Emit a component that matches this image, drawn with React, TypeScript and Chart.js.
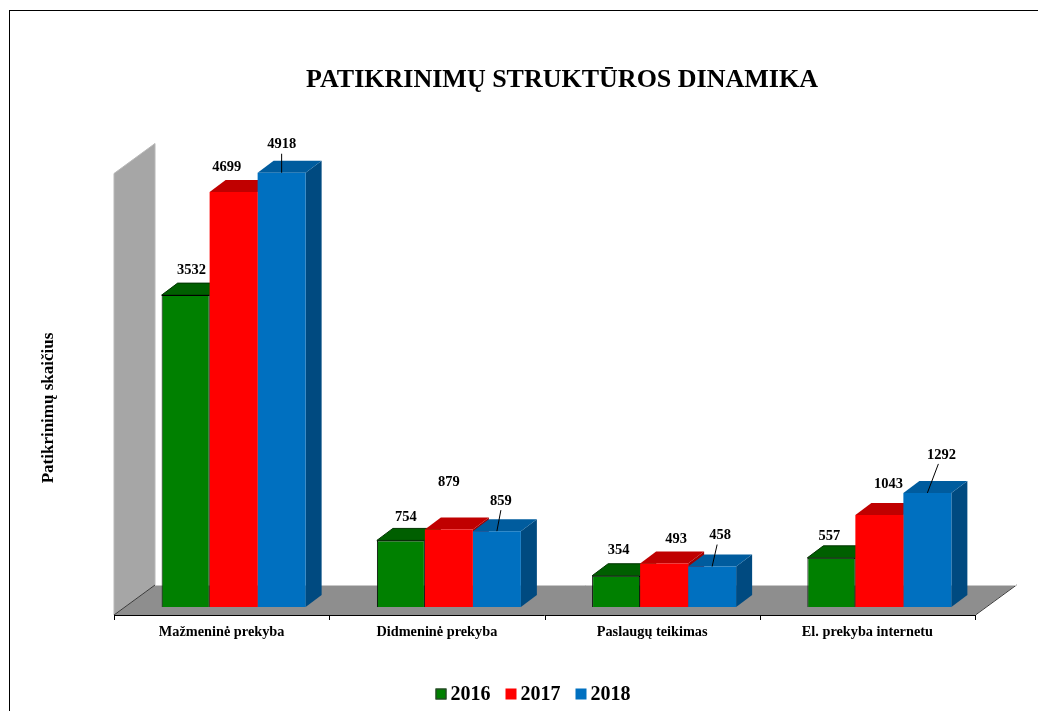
import React, { useEffect, useRef } from "react";
import { Chart, registerables } from "chart.js";

Chart.register(...registerables);

// ---------- data ----------
const categories = ["Mažmeninė prekyba", "Didmeninė prekyba", "Paslaugų teikimas", "El. prekyba internetu"];
const seriesLabels = ["2016", "2017", "2018"];
const values2016 = [3532, 754, 354, 557];
const values2017 = [4699, 879, 493, 1043];
const values2018 = [4918, 859, 458, 1292];
const yMin = 0;
const yMax = 5000;
const chartTitle = "PATIKRINIMŲ STRUKTŪROS DINAMIKA";
const yAxisTitle = "Patikrinimų skaičius";

// ---------- styling ----------
const FONT = '"Liberation Serif", "Times New Roman", serif';
const palette = [
  { front: "#008000", top: "#005f00", side: "#004c00", border: "#000000", bw: 1 },
  { front: "#ff0000", top: "#c00000", side: "#a00000", border: "#ff0000", bw: 0 },
  { front: "#0070c0", top: "#005c9e", side: "#004a80", border: "#0070c0", bw: 0 },
];
// per-label placement relative to bar top centre: [dx, dy, leader]
const labelPlacement = [
  [[6, -25, 0], [5, -23, 0], [2.5, -25, 0], [-2, -22, 0]],
  [[-7, -25, 0], [0, -47, 0], [12, -24.5, 0], [9, -31, 0]],
  [[0, -28, 1], [4, -30, 1], [8, -31, 1], [14, -38, 1]],
];
const FRONT = { dx: -12, dy: 8 }; // bar plane -> front edge of floor
const BAR_DEPTH = { dx: 16, dy: -12 };
const FLOOR_DEPTH = { dx: 41, dy: -30 };

function poly(ctx: CanvasRenderingContext2D, pts: number[][], fill: string, stroke?: string) {
  ctx.beginPath();
  ctx.moveTo(pts[0][0], pts[0][1]);
  for (let i = 1; i < pts.length; i++) ctx.lineTo(pts[i][0], pts[i][1]);
  ctx.closePath();
  ctx.fillStyle = fill;
  ctx.fill();
  if (stroke) {
    ctx.strokeStyle = stroke;
    ctx.lineWidth = 1;
    ctx.stroke();
  }
}

const threeDPlugin = {
  id: "threeD",
  beforeDraw(chart: any) {
    const { ctx, chartArea: ca, scales } = chart;
    ctx.save();
    ctx.fillStyle = "#ffffff";
    ctx.fillRect(0, 0, chart.width, chart.height);
    ctx.strokeStyle = "#000000";
    ctx.lineWidth = 1;
    ctx.strokeRect(9.5, 10.5, chart.width + 100, chart.height + 100);

    const fx0 = ca.left + FRONT.dx;
    const fx1 = ca.right + FRONT.dx;
    const fy = scales.y.getPixelForValue(yMin) + FRONT.dy;
    const topY = scales.y.getPixelForValue(yMax) + FRONT.dy;
    // back wall (left side)
    poly(ctx, [
      [fx0, fy],
      [fx0, topY],
      [fx0 + FLOOR_DEPTH.dx, topY + FLOOR_DEPTH.dy],
      [fx0 + FLOOR_DEPTH.dx, fy + FLOOR_DEPTH.dy],
    ], "#a6a6a6", "#b8b8b8");
    // floor
    poly(ctx, [
      [fx0, fy],
      [fx1, fy],
      [fx1 + FLOOR_DEPTH.dx, fy + FLOOR_DEPTH.dy],
      [fx0 + FLOOR_DEPTH.dx, fy + FLOOR_DEPTH.dy],
    ], "#8e8e8e");
    ctx.strokeStyle = "#3a3a3a";
    ctx.beginPath();
    ctx.moveTo(fx1 + 0.5, fy);
    ctx.lineTo(fx1 + FLOOR_DEPTH.dx + 0.5, fy + FLOOR_DEPTH.dy);
    ctx.moveTo(fx0, fy);
    ctx.lineTo(fx0 + FLOOR_DEPTH.dx, fy + FLOOR_DEPTH.dy);
    ctx.stroke();
    ctx.strokeStyle = "#c8c8c8";
    ctx.beginPath();
    ctx.moveTo(fx0 + FLOOR_DEPTH.dx, fy + FLOOR_DEPTH.dy + 0.5);
    ctx.lineTo(fx1 + FLOOR_DEPTH.dx, fy + FLOOR_DEPTH.dy + 0.5);
    ctx.stroke();

    // category axis line + ticks
    const n = categories.length;
    const catW = (ca.right - ca.left) / n;
    ctx.strokeStyle = "#000000";
    ctx.lineWidth = 1;
    ctx.beginPath();
    ctx.moveTo(fx0, Math.round(fy) + 0.5);
    ctx.lineTo(fx1, Math.round(fy) + 0.5);
    for (let i = 0; i <= n; i++) {
      const x = Math.round(fx0 + i * catW) + 0.5;
      ctx.moveTo(x, Math.round(fy));
      ctx.lineTo(x, Math.round(fy) + 5);
    }
    ctx.stroke();
    ctx.restore();
  },
  beforeDatasetsDraw(chart: any) {
    const { ctx } = chart;
    ctx.save();
    const n = categories.length;
    for (let i = 0; i < n; i++) {
      for (let d = 0; d < chart.data.datasets.length; d++) {
        const el = chart.getDatasetMeta(d).data[i];
        if (!el) continue;
        const x1 = el.x - el.width / 2;
        const x2 = el.x + el.width / 2;
        const yt = el.y;
        const yb = el.base;
        const p = palette[d];
        poly(ctx, [
          [x2, yt],
          [x2 + BAR_DEPTH.dx, yt + BAR_DEPTH.dy],
          [x2 + BAR_DEPTH.dx, yb + BAR_DEPTH.dy],
          [x2, yb],
        ], p.side);
        poly(ctx, [
          [x1, yt],
          [x1 + BAR_DEPTH.dx, yt + BAR_DEPTH.dy],
          [x2 + BAR_DEPTH.dx, yt + BAR_DEPTH.dy],
          [x2, yt],
        ], p.top, d === 0 ? "#003300" : undefined);
      }
    }
    ctx.restore();
  },
  afterDraw(chart: any) {
    const { ctx, chartArea: ca, scales } = chart;
    ctx.save();
    // data labels
    ctx.fillStyle = "#000000";
    ctx.strokeStyle = "#000000";
    ctx.lineWidth = 1;
    ctx.font = `bold 14.5px ${FONT}`;
    ctx.textAlign = "center";
    ctx.textBaseline = "middle";
    for (let d = 0; d < chart.data.datasets.length; d++) {
      const meta = chart.getDatasetMeta(d);
      const vals = chart.data.datasets[d].data;
      meta.data.forEach((el: any, i: number) => {
        const [dx, dy, leader] = labelPlacement[d][i];
        const lx = el.x + dx;
        const ly = el.y + dy;
        ctx.fillText(String(vals[i]), lx, ly);
        if (leader) {
          ctx.beginPath();
          ctx.moveTo(lx - (dx > 6 ? 3 : 0), ly + 9);
          ctx.lineTo(el.x, el.y);
          ctx.stroke();
        }
      });
    }
    // category labels (front edge)
    ctx.font = `bold 14.3px ${FONT}`;
    for (let i = 0; i < categories.length; i++) {
      const x = scales.x.getPixelForTick(i) + FRONT.dx;
      ctx.fillText(categories[i], x, ca.bottom + FRONT.dy + 17);
    }
    // title
    ctx.font = `bold 26px ${FONT}`;
    ctx.fillText(chartTitle, 562, 80);
    // y axis title
    ctx.save();
    ctx.translate(49, 408);
    ctx.rotate(-Math.PI / 2);
    ctx.font = `bold 17px ${FONT}`;
    ctx.fillText(yAxisTitle, 0, 0);
    ctx.restore();
    // legend
    ctx.font = `bold 20px ${FONT}`;
    ctx.textAlign = "left";
    const itemW = seriesLabels.map((s) => 11 + 4 + ctx.measureText(s).width);
    const gap = 15;
    const total = itemW.reduce((a, b) => a + b, 0) + gap * (seriesLabels.length - 1);
    let x = 533 - total / 2;
    const ly = 694;
    seriesLabels.forEach((s, k) => {
      ctx.fillStyle = palette[k].front;
      ctx.fillRect(x, ly - 5.5, 11, 11);
      if (k === 0) {
        ctx.strokeStyle = "#333333";
        ctx.strokeRect(x + 0.5, ly - 5, 10, 10);
      }
      ctx.fillStyle = "#000000";
      ctx.fillText(s, x + 15, ly + 1);
      x += itemW[k] + gap;
    });
    ctx.restore();
  },
};

export default function App() {
  const canvasRef = useRef<HTMLCanvasElement | null>(null);
  useEffect(() => {
    if (!canvasRef.current) return;
    const seriesValues = [values2016, values2017, values2018];
    const chart = new Chart(canvasRef.current, {
      type: "bar",
      data: {
        labels: categories,
        datasets: seriesLabels.map((label, k) => ({
          label,
          data: seriesValues[k],
          backgroundColor: palette[k].front,
          borderColor: palette[k].border,
          borderWidth: palette[k].bw,
          categoryPercentage: 0.669,
          barPercentage: 1,
        })),
      },
      options: {
        responsive: false,
        animation: false,
        layout: { padding: { left: 126, right: 51, top: 165.5, bottom: 104 } },
        plugins: {
          legend: { display: false },
          title: { display: false },
          tooltip: { enabled: false },
        },
        scales: {
          x: { display: false, grid: { display: false } },
          y: { display: false, min: yMin, max: yMax, grid: { display: false } },
        },
      },
      plugins: [threeDPlugin],
    });
    return () => chart.destroy();
  }, []);
  return (
    <div style={{ position: "absolute", left: 0, top: 0, width: 1038, height: 711 }}>
      <canvas ref={canvasRef} width={1038} height={711} />
    </div>
  );
}
